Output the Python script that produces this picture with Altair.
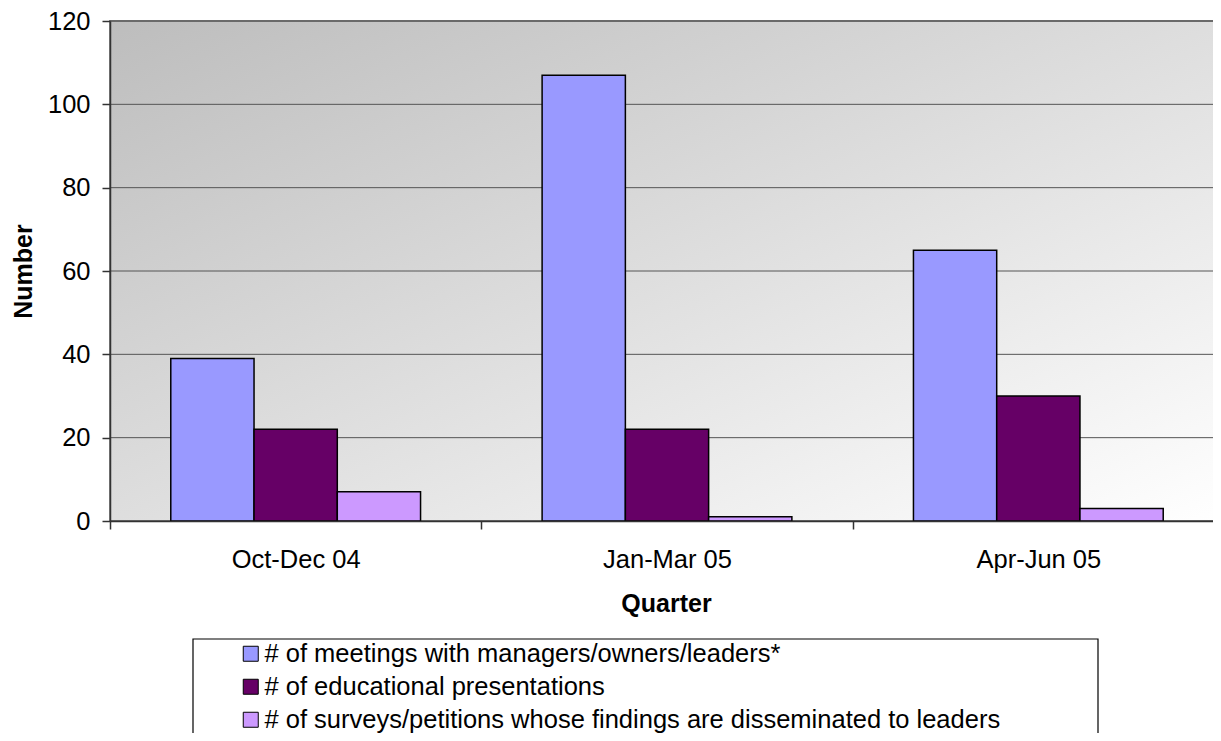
import altair as alt
import pandas as pd

quarters = ["Oct-Dec 04", "Jan-Mar 05", "Apr-Jun 05"]
series = [
    "# of meetings with managers/owners/leaders*",
    "# of educational presentations",
    "# of surveys/petitions whose findings are disseminated to leaders",
]
meetings = [39, 107, 65]
presentations = [22, 22, 30]
surveys = [7, 1, 3]
colors = ["#9999FF", "#660066", "#CC99FF"]
y_ticks = [0, 20, 40, 60, 80, 100, 120]

rows = []
for i, q in enumerate(quarters):
    for s, vals in zip(series, [meetings, presentations, surveys]):
        rows.append({"Quarter": q, "Series": s, "Value": vals[i]})
df = pd.DataFrame(rows)

FONT = "Liberation Sans"
AX = "#333333"
FS = 25.5

y_scale = alt.Scale(domain=[0, 120], nice=False, zero=True)
y_axis = alt.Axis(
    title="Number", values=y_ticks, grid=False, zindex=1,
    labelFontSize=FS, labelFont=FONT, labelColor="black", labelPadding=12,
    tickSize=8, tickColor=AX, tickWidth=1.5, domainColor=AX, domainWidth=1.5,
    titleFontSize=25, titleFont=FONT, titleFontWeight="bold", titleColor="black",
    titleAngle=270, titleX=-87, titleY=250, titleAlign="center", titleBaseline="middle",
)
x_axis = alt.Axis(
    title="Quarter", labelAngle=0, grid=False, zindex=1, tickBand="extent",
    labelFontSize=FS, labelFont=FONT, labelColor="black", labelPadding=18,
    tickSize=8, tickColor=AX, tickWidth=1.5, domainColor=AX, domainWidth=1.5,
    titleFontSize=25, titleFont=FONT, titleFontWeight="bold", titleColor="black",
    titleX=556, titleY=90, titleBaseline="alphabetic",
)

bg = alt.Chart(pd.DataFrame({"a": [0]})).mark_rect(
    color=alt.Gradient(
        gradient="linear",
        stops=[alt.GradientStop(color="#BDBDBD", offset=0),
               alt.GradientStop(color="#FFFFFF", offset=1)],
        x1=0, y1=0, x2=1, y2=1,
    ),
    stroke="#808080", strokeWidth=2,
).encode(x=alt.value(0), x2=alt.value(1115), y=alt.value(0), y2=alt.value("height"))

grid = alt.Chart(pd.DataFrame({"Value": y_ticks})).mark_rule(
    color="#555555", strokeWidth=1
).encode(y=alt.Y("Value:Q", scale=y_scale, axis=y_axis),
         x=alt.value(0), x2=alt.value(1115))

bars = alt.Chart(df).mark_bar(stroke="black", strokeWidth=1.5).encode(
    x=alt.X("Quarter:N", sort=quarters,
            scale=alt.Scale(paddingInner=0, paddingOuter=0, range=[0, 1114]),
            axis=x_axis),
    xOffset=alt.XOffset("Series:N", sort=series,
                        scale=alt.Scale(paddingInner=0, paddingOuter=0.73)),
    y=alt.Y("Value:Q", scale=y_scale, axis=y_axis),
    color=alt.Color(
        "Series:N", sort=series,
        scale=alt.Scale(domain=series, range=colors),
        legend=alt.Legend(
            title=None, orient="none", legendX=128, legendY=620, direction="vertical",
            symbolType="square", symbolSize=225, symbolStrokeColor="black",
            symbolStrokeWidth=1, symbolOpacity=1,
            labelFontSize=FS, labelFont=FONT, labelColor="black", labelOffset=1,
            rowPadding=6, labelLimit=2000,
        ),
    ),
)

legend_box = alt.Chart(pd.DataFrame({"a": [0]})).mark_rect(
    filled=False, stroke="black", strokeWidth=1.2
).encode(x=alt.value(83), x2=alt.value(988), y=alt.value(618), y2=alt.value(760))

chart = alt.layer(bg, grid, bars, legend_box).properties(
    width=1103, height=500,
    autosize=alt.AutoSizeParams(type="none"),
    padding={"left": 102, "top": 13, "right": 0, "bottom": 212},
).configure(font=FONT).configure_view(stroke=None)

chart.save("out.html", embed_options={"renderer": "svg", "actions": False})
